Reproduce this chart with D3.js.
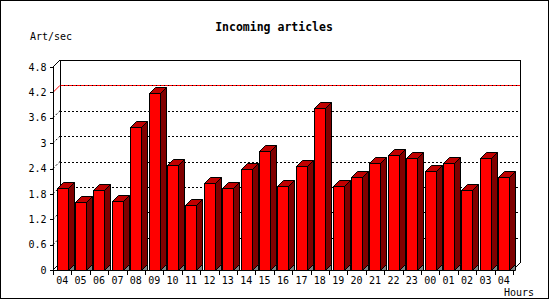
<!DOCTYPE html>
<html>
<head>
<meta charset="utf-8">
<script src="https://cdn.jsdelivr.net/npm/d3@7"></script>
<style>
html,body{margin:0;padding:0;background:#fff;}
svg{display:block;}
</style>
</head>
<body>
<script>
const hours = ["04","05","06","07","08","09","10","11","12","13","14","15","16","17","18","19","20","21","22","23","00","01","02","03","04"];
const values = [1.93,1.60,1.88,1.62,3.39,4.19,2.48,1.53,2.05,1.93,2.40,2.81,1.98,2.46,3.82,1.98,2.19,2.52,2.71,2.66,2.33,2.52,1.88,2.66,2.19];
const yTicks = [0,0.6,1.2,1.8,2.4,3,3.6,4.2,4.8];
const yTickLabels = ["0","0.6","1.2","1.8","2.4","3","3.6","4.2","4.8"];
const markLine = 4.2;
const title = "Incoming articles";
const yTitle = "Art/sec";
const xTitle = "Hours";

(function(){
const W = 550, H = 300;
const pLeft = 53, pRight = 513, pBottom = 270, pTop = 67;
const D = 7;      // frame depth
const BD = 6;     // bar depth

const svg = d3.select("body").append("svg").attr("width", W).attr("height", H);

const x = d3.scaleBand().domain(d3.range(hours.length)).range([pLeft, pRight]).paddingInner(0.4).paddingOuter(0.2);
const y = d3.scaleLinear().domain([0, 4.8]).range([pBottom, pTop]);
const step = x.step();

// outer frame
svg.append("rect").attr("x",0.5).attr("y",0.5).attr("width",548).attr("height",298)
  .attr("fill","#fff").attr("stroke","#000").attr("shape-rendering","crispEdges");

const g = svg.append("g");

// back wall frame
const bl = pLeft + D, br = pRight + D, bt = y(4.8) - D, bb = pBottom - D;
g.append("path").attr("d", `M${bl+0.5},${bb}V${Math.round(bt)+0.5}H${br+0.5}V${bb}`)
  .attr("fill","none").attr("stroke","#000").attr("shape-rendering","crispEdges");
// floor right edge
g.append("line").attr("x1",br).attr("y1",bb).attr("x2",pRight).attr("y2",pBottom).attr("stroke","#000");
// floor left edge
g.append("line").attr("x1",pLeft).attr("y1",pBottom).attr("x2",bl).attr("y2",bb).attr("stroke","#000");

// grid lines
yTicks.filter(v => v > 0 && v < 4.8 && v !== markLine).forEach(v => {
  const yy = Math.round(y(v) - D) + 0.5;
  g.append("line").attr("x1",bl).attr("x2",br).attr("y1",yy).attr("y2",yy)
    .attr("stroke","#000").attr("stroke-dasharray","2,2").attr("shape-rendering","crispEdges");
  g.append("line").attr("x1",pLeft).attr("y1",y(v)).attr("x2",bl).attr("y2",y(v)-D)
    .attr("stroke","#000").attr("stroke-dasharray","2,2");
});
// red mark line
{
  const yy = Math.round(y(markLine) - D) + 0.5;
  g.append("line").attr("x1",bl).attr("x2",br).attr("y1",yy).attr("y2",yy).attr("stroke","#ff0000").attr("shape-rendering","crispEdges");
  g.append("line").attr("x1",bl).attr("x2",br).attr("y1",yy).attr("y2",yy)
    .attr("stroke","#000").attr("stroke-dasharray","1,3").attr("shape-rendering","crispEdges");
  g.append("line").attr("x1",pLeft).attr("y1",y(markLine)).attr("x2",bl).attr("y2",y(markLine)-D)
    .attr("stroke","#ff0000");
}
// top-left diagonal of y-axis
g.append("line").attr("x1",pLeft).attr("y1",y(4.8)).attr("x2",bl).attr("y2",bt).attr("stroke","#000");

// bars
const bars = g.selectAll("g.bar").data(values).join("g").attr("class","bar")
  .attr("stroke","#000").attr("stroke-width",1).attr("stroke-linejoin","miter");
bars.each(function(v, i) {
  const s = d3.select(this);
  const x0 = Math.round(x(i)) + 0.5;
  const x1 = x0 + Math.round(x.bandwidth());
  const yv = Math.round(y(v)) + 0.5;
  const yb = pBottom + 0.5;
  s.append("polygon").attr("points", [[x1,yb],[x1+BD,yb-BD],[x1+BD,yb]].join(" ")).attr("fill","#808080");
  s.append("polygon").attr("points", [[x1,yv],[x1+BD,yv-BD],[x1+BD,yb-BD],[x1,yb]].join(" ")).attr("fill","#800000");
  s.append("polygon").attr("points", [[x0,yv],[x0+BD,yv-BD],[x1+BD,yv-BD],[x1,yv]].join(" ")).attr("fill","#c00000");
  s.append("rect").attr("x",x0).attr("y",yv).attr("width",x1-x0).attr("height",yb-yv).attr("fill","#ff0000");
});

// y axis
const yAxis = d3.axisLeft(y).tickValues(yTicks).tickFormat((d,i) => yTickLabels[i]).tickSize(4).tickPadding(3);
const ya = svg.append("g").attr("transform",`translate(${pLeft+0.5},0)`).call(yAxis);
ya.select(".domain").attr("d", `M0,${pBottom+0.5}V${y(4.8)}`).attr("shape-rendering","crispEdges");
ya.selectAll("text").attr("font-family","'DejaVu Sans Mono', monospace").attr("font-size","10px").attr("fill","#000");
ya.selectAll(".tick line").attr("shape-rendering","crispEdges");

// x axis: line, boundary ticks, labels
svg.append("line").attr("x1",pLeft).attr("x2",pRight).attr("y1",pBottom+0.5).attr("y2",pBottom+0.5)
  .attr("stroke","#000").attr("shape-rendering","crispEdges");
const bounds = d3.range(hours.length + 1).map(i => pLeft + i * step);
svg.selectAll("line.xt").data(bounds).join("line").attr("class","xt")
  .attr("x1",d => Math.round(d)+0.5).attr("x2",d => Math.round(d)+0.5)
  .attr("y1",pBottom).attr("y2",pBottom+5).attr("stroke","#000").attr("shape-rendering","crispEdges");
svg.selectAll("text.xl").data(hours).join("text").attr("class","xl")
  .attr("x",(d,i) => pLeft + (i+0.5)*step).attr("y",284)
  .attr("text-anchor","middle").attr("font-family","'DejaVu Sans Mono', monospace").attr("font-size","10px")
  .text(d => d);

// titles
svg.append("text").attr("x",274).attr("y",31).attr("text-anchor","middle")
  .attr("font-family","'DejaVu Sans Mono', monospace").attr("font-weight","bold").attr("font-size","11.5px").text(title);
svg.append("text").attr("x",30).attr("y",40)
  .attr("font-family","'DejaVu Sans Mono', monospace").attr("font-size","10px").text(yTitle);
svg.append("text").attr("x",504).attr("y",296)
  .attr("font-family","'DejaVu Sans Mono', monospace").attr("font-size","10px").text(xTitle);
})();
</script>
</body>
</html>
